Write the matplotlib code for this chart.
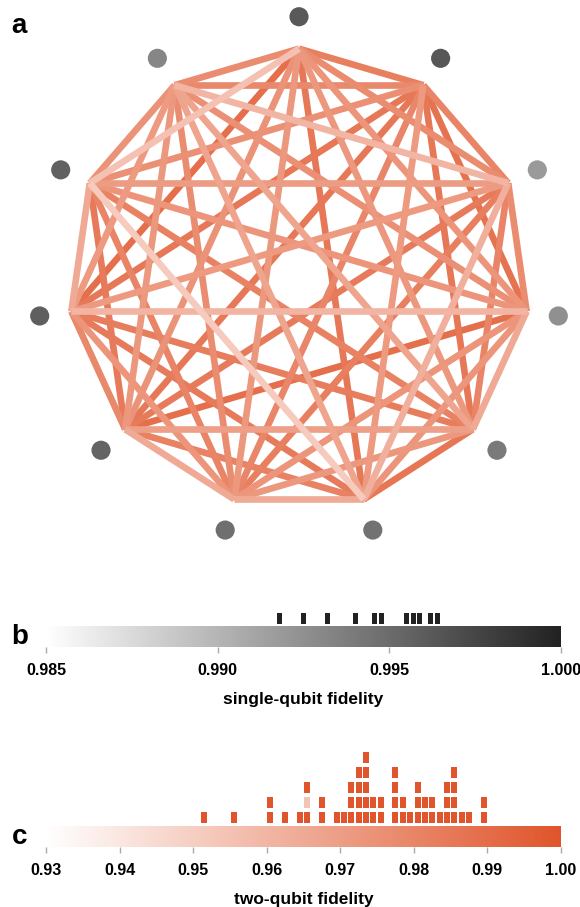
import numpy as np
import matplotlib
matplotlib.use('Agg')
import matplotlib.pyplot as plt
from matplotlib.colors import LinearSegmentedColormap, Normalize

plt.rcParams['font.family'] = ['Liberation Sans', 'DejaVu Sans']
plt.rcParams['font.weight'] = 'bold'

# ---------------- data ----------------
n_qubits = 11
single_qubit_fidelity = [0.99620, 0.99641, 0.99180, 0.99251, 0.99402, 0.99458,
                         0.99477, 0.99551, 0.99587, 0.99569, 0.99321]

edge_pairs = [
    (0, 1), (1, 2), (2, 3), (3, 4), (4, 5), (5, 6), (6, 7), (7, 8), (8, 9), (9, 10), (10, 0),
    (0, 2), (1, 3), (2, 4), (3, 5), (4, 6), (5, 7), (6, 8), (7, 9), (8, 10), (9, 0), (10, 1),
    (0, 3), (1, 4), (2, 5), (3, 6), (4, 7), (5, 8), (6, 9), (7, 10), (8, 0), (9, 1), (10, 2),
    (0, 4), (1, 5), (2, 6), (3, 7), (4, 8), (5, 9), (6, 10), (7, 0), (8, 1), (9, 2), (10, 3),
    (0, 5), (1, 6), (2, 7), (3, 8), (4, 9), (5, 10), (6, 0), (7, 1), (8, 2), (9, 3), (10, 4),
]
two_qubit_fidelity = [
    0.9825, 0.9805, 0.9775, 0.9655, 0.9865, 0.9645, 0.9655, 0.9785, 0.9655, 0.9745, 0.9775,
    0.9775, 0.9875, 0.9805, 0.9735, 0.9725, 0.9815, 0.9735, 0.9845, 0.9715, 0.9555, 0.9785,
    0.9735, 0.9855, 0.9625, 0.9735, 0.9695, 0.9845, 0.9805, 0.9725, 0.9895, 0.9755, 0.9605,
    0.9725, 0.9715, 0.9825, 0.9895, 0.9835, 0.9515, 0.9775, 0.9745, 0.9855, 0.9705, 0.9755,
    0.9855, 0.9795, 0.9845, 0.9605, 0.9815, 0.9675, 0.9725, 0.9855, 0.9715, 0.9735, 0.9675,
]
faded_edges = [(6, 7)]

sq_range = (0.985, 1.000)
sq_ticks = [0.985, 0.990, 0.995, 1.000]
sq_ticklabels = ['0.985', '0.990', '0.995', '1.000']
tq_range = (0.93, 1.00)
tq_ticks = [0.93, 0.94, 0.95, 0.96, 0.97, 0.98, 0.99, 1.00]
tq_ticklabels = ['0.93', '0.94', '0.95', '0.96', '0.97', '0.98', '0.99', '1.00']
tq_bin = 0.001

# ---------------- style ----------------
W, H = 580, 907
sq_cmap = LinearSegmentedColormap.from_list('sq', ['#ffffff', '#222222'])
tq_cmap = LinearSegmentedColormap.from_list('tq', ['#ffffff', '#e0552b'])
sq_norm = Normalize(*sq_range)
tq_norm = Normalize(*tq_range)

fig = plt.figure(figsize=(W / 100, H / 100), dpi=100)


def box(x0, y0, x1, y1):
    return [x0 / W, 1 - y1 / H, (x1 - x0) / W, (y1 - y0) / H]


# ---------------- panel a: graph ----------------
cx, cy, R = 299.0, 278.7, 230.0
axg = fig.add_axes(box(0, 0, 580, 560))
axg.set_xlim(-cx / R, (W - cx) / R)
axg.set_ylim((cy - 560) / R, cy / R)
axg.axis('off')

theta = np.pi / 2 - 2 * np.pi * np.arange(n_qubits) / n_qubits
px, py = np.cos(theta), np.sin(theta)

order = np.argsort(two_qubit_fidelity)[::-1]
for idx in order:
    i, j = edge_pairs[idx]
    axg.plot([px[i], px[j]], [py[i], py[j]], color=tq_cmap(tq_norm(two_qubit_fidelity[idx])),
             lw=4.8, solid_capstyle='butt', zorder=1)

dot_r = 1.139
axg.scatter(px * dot_r, py * dot_r, s=190, c=single_qubit_fidelity, cmap=sq_cmap,
            norm=sq_norm, edgecolors='none', zorder=3)

fig.text(11.5 / W, 1 - 33.3 / H, 'a', fontsize=20, fontweight='bold', va='baseline')


def colorbar_axes(y0, y1, rng, cmap, ticks, labels, xlabel):
    ax = fig.add_axes(box(46, y0, 561, y1))
    grad = np.linspace(0, 1, 512).reshape(1, -1)
    ax.imshow(grad, cmap=cmap, aspect='auto', extent=[rng[0], rng[1], 0, 1],
              interpolation='bilinear')
    ax.set_xlim(*rng)
    ax.set_ylim(0, 1)
    for s in ax.spines.values():
        s.set_visible(False)
    ax.set_yticks([])
    ax.set_xticks(ticks)
    ax.set_xticklabels(labels)
    ax.tick_params(axis='x', length=4.3, width=1.0, color='#aaaaaa', pad=7.5,
                   labelsize=11.5, labelcolor='black')
    for t in ax.get_xticklabels():
        t.set_fontweight('bold')
    ax.set_xlabel(xlabel, fontsize=12.5, fontweight='bold', labelpad=10)
    return ax


# ---------------- panel b ----------------
axbm = fig.add_axes(box(46, 613.3, 561, 624))
axbm.bar(single_qubit_fidelity, 1, width=0.000146, color='#222222', align='center')
axbm.set_xlim(*sq_range)
axbm.set_ylim(0, 1)
axbm.axis('off')
colorbar_axes(626, 647, sq_range, sq_cmap, sq_ticks, sq_ticklabels, 'single-qubit fidelity')
fig.text(11.5 / W, 1 - 644.3 / H, 'b', fontsize=20, fontweight='bold', va='baseline')

# ---------------- panel c ----------------
axch = fig.add_axes(box(46, 736, 561, 826))
axch.set_xlim(*tq_range)
axch.set_ylim(0, 6)
axch.axis('off')
stack = {}
for (pair, v) in zip(edge_pairs, two_qubit_fidelity):
    b = int(np.floor(v / tq_bin + 1e-6))
    k = stack.get(b, 0)
    stack[b] = k + 1
    alpha = 0.35 if pair in faded_edges else 1.0
    axch.bar((b + 0.5) * tq_bin, 0.78, bottom=k + 0.18, width=0.00082,
             color='#e0552b', alpha=alpha, align='center')
colorbar_axes(826, 847, tq_range, tq_cmap, tq_ticks, tq_ticklabels, 'two-qubit fidelity')
fig.text(11.5 / W, 1 - 844.3 / H, 'c', fontsize=20, fontweight='bold', va='baseline')

fig.savefig('out.png', dpi=100)
